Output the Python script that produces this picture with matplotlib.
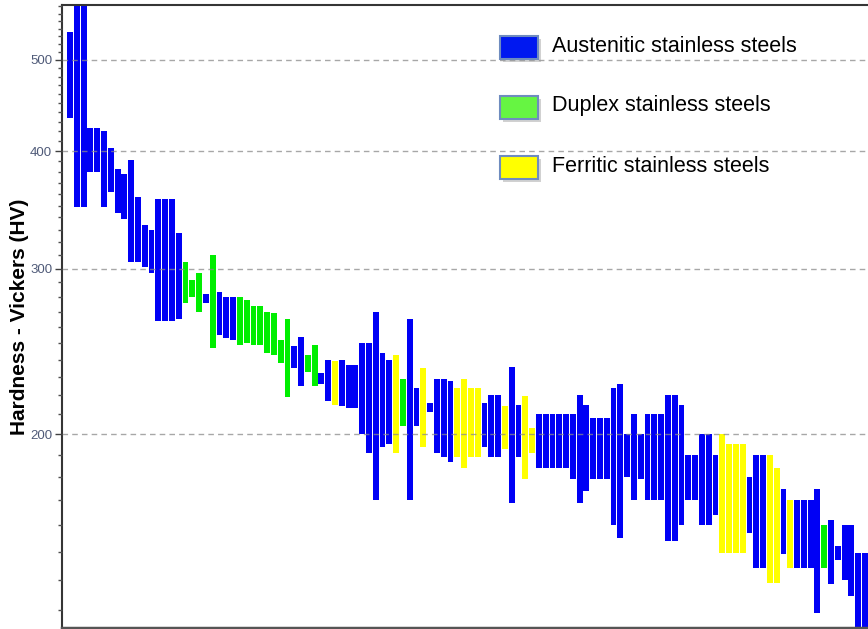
import matplotlib
matplotlib.use("Agg")
import matplotlib.pyplot as plt
from matplotlib.patches import Rectangle
from matplotlib.ticker import FixedLocator, NullFormatter, FixedFormatter

plt.rcParams['font.family'] = ['Liberation Sans', 'DejaVu Sans']

# hardness ranges (HV), one bar per grade, sorted by hardness
family = ['A', 'A', 'A', 'A', 'A', 'A', 'A', 'A', 'A', 'A',
          'A', 'A', 'A', 'A', 'A', 'A', 'A', 'D', 'D', 'D',
          'A', 'D', 'A', 'A', 'A', 'D', 'D', 'D', 'D', 'D',
          'D', 'D', 'D', 'A', 'A', 'D', 'D', 'A', 'A', 'F',
          'A', 'A', 'A', 'A', 'A', 'A', 'A', 'A', 'F', 'D',
          'A', 'A', 'F', 'A', 'A', 'A', 'A', 'F', 'F', 'F',
          'F', 'A', 'A', 'A', 'F', 'A', 'A', 'F', 'F', 'A',
          'A', 'A', 'A', 'A', 'A', 'A', 'A', 'A', 'A', 'A',
          'A', 'A', 'A', 'A', 'A', 'A', 'A', 'A', 'A', 'A',
          'A', 'A', 'A', 'A', 'A', 'A', 'F', 'F', 'F', 'F',
          'A', 'A', 'A', 'F', 'F', 'A', 'F', 'A', 'A', 'A',
          'A', 'D', 'A', 'A', 'A', 'A', 'A', 'A']
hv_low = [434, 349, 349, 380, 380, 349, 362, 344, 339, 305,
          305, 301, 297, 264, 264, 264, 265, 276, 280, 270,
          276, 247, 255, 253, 252, 249, 250, 249, 249, 244,
          243, 238, 219, 235, 225, 233, 225, 226, 217, 215,
          214, 213, 213, 200, 191, 170, 194, 195, 191, 204,
          170, 204, 194, 211, 191, 189, 187, 189, 184, 189,
          189, 194, 189, 189, 193, 169, 189, 179, 191, 184,
          184, 184, 184, 184, 179, 169, 174, 179, 179, 179,
          160, 155, 180, 170, 179, 170, 170, 170, 154, 154,
          160, 170, 170, 160, 160, 164, 149.5, 149.5, 149.5, 149.5,
          157, 144, 144, 139, 139, 149, 144, 144, 144, 144,
          129, 144, 138.5, 147, 140, 134.5, 120, 120]
hv_high = [535, 600, 600, 423, 423, 420, 403, 383, 378, 391,
           357, 334, 330, 356, 356, 356, 327, 305, 292, 297,
           282, 310, 283, 280, 280, 280, 278, 274, 274, 270,
           269, 252, 265, 248, 254, 243, 249, 232, 240, 239,
           240, 237, 237, 250, 250, 270, 244, 240, 243, 229,
           265, 224, 235, 216, 229, 229, 228, 224, 229, 224,
           224, 216, 220, 220, 214, 236, 215, 219.5, 203, 210,
           210, 210, 210, 210, 210, 220, 215, 208, 208, 208,
           224, 226, 200, 210, 200, 210, 210, 210, 220, 220,
           215, 190, 190, 200, 200, 190, 200, 195, 195, 195,
           180, 190, 190, 190, 184, 175, 170, 170, 170, 170,
           175, 160, 162, 152, 160, 160, 149.5, 149.5]

legend_keys = ['A', 'D', 'F']
legend_names = ['Austenitic stainless steels', 'Duplex stainless steels',
                'Ferritic stainless steels']
bar_colors = {'A': '#0000f5', 'D': '#00ee00', 'F': '#ffff00'}
legend_colors = {'A': '#0018f0', 'D': '#66f542', 'F': '#ffff00'}

y_major = [200, 300, 400, 500]
y_minor = [v for v in range(120, 580, 10) if v not in y_major]

W, H = 868, 629
fig = plt.figure(figsize=(W / 100, H / 100), dpi=100)
ax = fig.add_axes([62 / W, 1 - 628 / H, (870 - 62) / W, (628 - 5) / H])

x = list(range(len(hv_low)))
heights = [h - l for l, h in zip(hv_low, hv_high)]
cols = [bar_colors[f] for f in family]
ax.bar(x, heights, bottom=hv_low, width=0.86, color=cols,
       edgecolor='none', zorder=2)

ax.set_yscale('log')
ax.set_ylim(124.4, 572)
ax.set_xlim(-1.18, len(x) - 0.26)
ax.set_xticks([])

ax.yaxis.set_major_locator(FixedLocator(y_major))
ax.yaxis.set_major_formatter(FixedFormatter([str(v) for v in y_major]))
ax.yaxis.set_minor_locator(FixedLocator(y_minor))
ax.yaxis.set_minor_formatter(NullFormatter())
ax.tick_params(axis='y', which='major', length=5, width=1, color='#404040',
               labelsize=9.5, labelcolor='#4f5a78', pad=2)
ax.tick_params(axis='y', which='minor', length=3, width=1, color='#505050')

ax.yaxis.grid(True, which='major', linestyle=(0, (4, 3)), color='#8a8a8a',
              linewidth=1.0, alpha=0.75, zorder=3)
ax.set_axisbelow(False)

for side in ['left', 'top']:
    ax.spines[side].set_color('#353535')
    ax.spines[side].set_linewidth(1.5)
ax.spines['bottom'].set_color('#555555')
ax.spines['bottom'].set_linewidth(2.5)
ax.spines['right'].set_visible(False)

ax.set_ylabel('Hardness - Vickers (HV)', fontsize=15, fontweight='bold')
ax.yaxis.set_label_coords(-0.041, 0.5)

# legend drawn by hand: swatch with soft shadow, then label
for i, key in enumerate(legend_keys):
    cy = 47 + i * 60
    x0, w, h = 500, 38, 23
    shadow = Rectangle(((x0 + 3) / W, 1 - (cy + h / 2 + 3) / H), w / W, h / H,
                       transform=fig.transFigure, facecolor='#9a9a9a',
                       edgecolor='none', alpha=0.45, zorder=5)
    sw = Rectangle((x0 / W, 1 - (cy + h / 2) / H), w / W, h / H,
                   transform=fig.transFigure, facecolor=legend_colors[key],
                   edgecolor='#6f8cbf', linewidth=1.5, zorder=6)
    fig.patches.extend([shadow, sw])
    fig.text(552 / W, 1 - (cy - 1) / H, legend_names[i], fontsize=15.5,
             color='black', va='center', ha='left', zorder=7)

fig.savefig('out.png', dpi=100)
